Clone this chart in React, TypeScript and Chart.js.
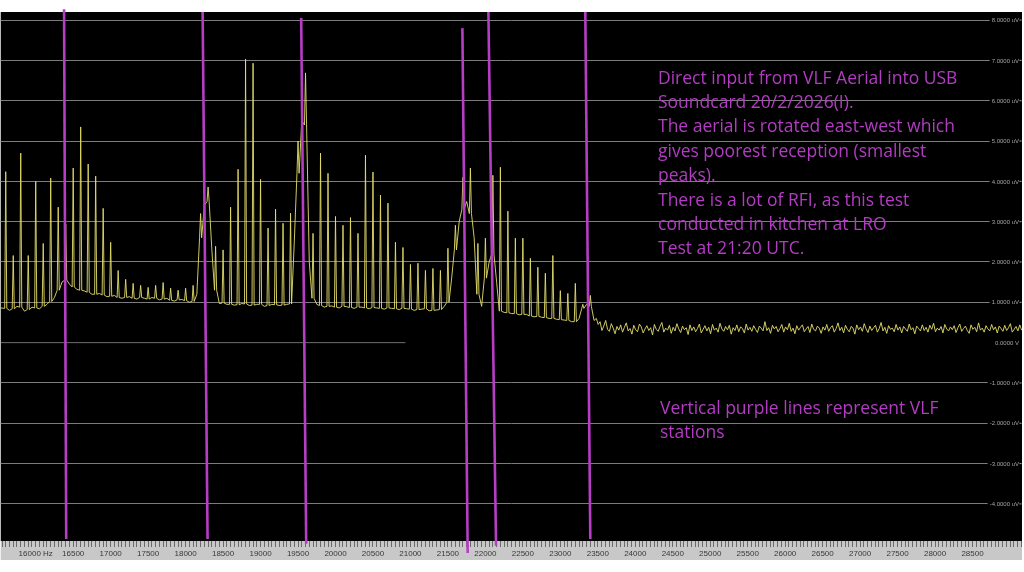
import React, { useEffect, useRef } from 'react';
import { Chart, registerables } from 'chart.js';

Chart.register(...registerables);

// ---- axis ranges ----
const X_MIN_HZ = 15533;
const X_MAX_HZ = 29160;
const Y_MIN_UV = -4.92;
const Y_MAX_UV = 8.2;

// ---- mains-harmonic spikes, one every 100 Hz from 15600 Hz ----
const PEAK_START_HZ = 15600;
const PEAK_STEP_HZ = 100;
const SPIKE_HALF_HZ = 14;
const GAP_OFFSET_HZ = 50;

const peakTopUv = [
  4.24, 2.16, 4.7, 2.16, 4.0, 2.46, 4.08, 3.36, 2.94, 4.33,
  5.35, 4.43, 4.13, 3.33, 2.49, 1.79, 1.57, 1.47, 1.42, 1.37,
  1.42, 1.49, 1.35, 1.3, 1.35, 1.42, 3.2, 3.86, 2.39, 2.3,
  3.36, 4.3, 7.03, 6.93, 4.05, 2.84, 3.31, 2.96, 3.21, 5.0,
  6.69, 2.71, 4.7, 4.2, 3.13, 2.91, 3.1, 2.71, 4.65, 4.23,
  3.66, 3.46, 2.49, 2.36, 1.94, 1.97, 1.79, 1.84, 1.79, 2.34,
  2.91, 4.1, 4.33, 2.46, 2.59, 4.15, 4.35, 3.26, 2.59, 2.59,
  2.09, 1.87, 1.72, 2.16, 1.29, 1.22, 1.47, 0.95, 1.17,
];

const peakFloorUv = [
  0.85, 0.84, 0.88, 0.82, 0.86, 0.9, 1.02, 1.3, 1.55, 1.38,
  1.3, 1.25, 1.2, 1.18, 1.15, 1.12, 1.12, 1.1, 1.12, 1.08,
  1.1, 1.08, 1.05, 1.06, 1.04, 1.02, 2.6, 3.5, 1.3, 0.98,
  0.95, 0.94, 0.96, 0.93, 0.95, 0.92, 0.94, 0.93, 0.96, 4.2,
  5.4, 1.1, 0.92, 0.9, 0.88, 0.9, 0.87, 0.88, 0.86, 0.87,
  0.85, 0.86, 0.84, 0.85, 0.83, 0.82, 0.84, 0.8, 0.82, 1.0,
  2.3, 3.3, 3.2, 1.2, 1.6, 2.2, 0.78, 0.74, 0.72, 0.7,
  0.66, 0.65, 0.62, 0.6, 0.57, 0.55, 0.52, 0.85, 0.9,
];

// value half-way between consecutive spikes
const gapUv = [
  0.8, 0.9, 0.78, 0.88, 0.84, 0.95, 1.12, 1.5, 1.45, 1.32,
  1.28, 1.2, 1.22, 1.14, 1.17, 1.1, 1.14, 1.08, 1.1, 1.12,
  1.06, 1.1, 1.03, 1.07, 1.0, 1.2, 3.4, 2.3, 0.97, 0.95,
  0.93, 0.97, 0.92, 0.95, 0.9, 0.95, 0.92, 0.95, 2.5, 5.5,
  2.0, 0.95, 0.88, 0.91, 0.86, 0.89, 0.85, 0.88, 0.84, 0.86,
  0.83, 0.85, 0.82, 0.84, 0.8, 0.83, 0.79, 0.81, 0.9, 1.6,
  3.0, 3.5, 2.6, 0.9, 2.0, 1.5, 0.75, 0.72, 0.69, 0.7,
  0.64, 0.63, 0.6, 0.58, 0.56, 0.52, 0.6, 0.95, 0.55,
];

const LEAD_HZ = 15535;
const LEAD_UV = 0.86;

// ---- noise floor above the last station ----
const NOISE_START_HZ = 23480;
const NOISE_STEP_HZ = 25;
const noiseUv = [
  0.6, 0.45, 0.52, 0.3, 0.41, 0.55, 0.33, 0.28, 0.47, 0.36,
  0.22, 0.4, 0.31, 0.44, 0.26, 0.38, 0.49, 0.29, 0.35, 0.21,
  0.43, 0.32, 0.27, 0.46, 0.39, 0.24, 0.34, 0.42, 0.3, 0.37,
  0.19, 0.45, 0.33, 0.28, 0.4, 0.5, 0.26, 0.36, 0.31, 0.43,
  0.23, 0.38, 0.29, 0.47, 0.34, 0.25, 0.41, 0.32, 0.37, 0.2,
  0.44, 0.3, 0.39, 0.27, 0.35, 0.46, 0.24, 0.33, 0.42, 0.29,
  0.38, 0.22, 0.45, 0.31, 0.36, 0.26, 0.48, 0.34, 0.28, 0.4,
  0.32, 0.43, 0.21, 0.37, 0.3, 0.44, 0.27, 0.39, 0.35, 0.24,
  0.46, 0.31, 0.38, 0.28, 0.42, 0.33, 0.25, 0.41, 0.36, 0.29,
  0.52, 0.3, 0.37, 0.23, 0.43, 0.34, 0.4, 0.27, 0.35, 0.45,
  0.26, 0.39, 0.32, 0.48, 0.28, 0.36, 0.22, 0.42, 0.31, 0.38,
  0.44, 0.27, 0.34, 0.4, 0.25, 0.46, 0.33, 0.29, 0.41, 0.36,
  0.23, 0.39, 0.31, 0.45, 0.28, 0.37, 0.42, 0.26, 0.35, 0.49,
  0.3, 0.38, 0.24, 0.43, 0.33, 0.27, 0.4, 0.36, 0.21, 0.44,
  0.32, 0.39, 0.28, 0.47, 0.34, 0.25, 0.41, 0.3, 0.37, 0.43,
  0.26, 0.35, 0.5, 0.29, 0.38, 0.23, 0.42, 0.33, 0.36, 0.27,
  0.45, 0.31, 0.39, 0.24, 0.4, 0.34, 0.28, 0.46, 0.32, 0.37,
  0.22, 0.41, 0.35, 0.29, 0.44, 0.3, 0.38, 0.26, 0.43, 0.33,
  0.48, 0.27, 0.36, 0.31, 0.4, 0.24, 0.45, 0.34, 0.29, 0.39,
  0.32, 0.42, 0.25, 0.37, 0.46, 0.28, 0.35, 0.41, 0.3, 0.23,
  0.44, 0.33, 0.38, 0.27, 0.49, 0.31, 0.36, 0.26, 0.42, 0.34,
  0.29, 0.45, 0.32, 0.39, 0.24, 0.41, 0.35, 0.28, 0.43, 0.3,
  0.37, 0.47, 0.26, 0.33, 0.4, 0.29, 0.44, 0.31, 0.36, 0.25,
];

// ---- VLF stations (hand-drawn, slightly slanted purple lines) ----
const stationTopHz = [16378, 18227, 19542, 21693, 22040, 23333];
const stationTopUv = [8.27, 8.2, 8.05, 7.8, 8.2, 8.2];
const stationBottomHz = [16407, 18293, 19609, 21764, 22142, 23400];
const stationBottomUv = [-4.87, -4.87, -4.99, -5.22, -5.04, -4.87];

// ---- partial zero line ----
const zeroLineHz = [15533, 20933];
const zeroLineUv = [0, 0];

// ---- axis ticks ----
const Y_STEP_UV = 1;
const X_MINOR_STEP_HZ = 50;
const X_LABEL_STEP_HZ = 500;
const X_FIRST_LABEL_HZ = 16000;
const X_LAST_LABEL_HZ = 28500;

const noteLines = [
  'Direct input from VLF Aerial into USB',
  'Soundcard 20/2/2026(I).',
  'The aerial is rotated east-west which',
  'gives poorest reception (smallest',
  'peaks).',
  'There is a lot of RFI, as this test',
  'conducted in kitchen at LRO',
  'Test at 21:20 UTC.',
];
const legendLines = ['Vertical purple lines represent VLF', 'stations'];

const PURPLE = '#b63dc4';
const TEXT_PURPLE = '#b23cc2';

function yLabel(n: number) {
  return n === 0 ? '0.0000 V' : n.toFixed(4) + ' uV';
}

function buildSpectrum() {
  const pts: { x: number; y: number }[] = [{ x: LEAD_HZ, y: LEAD_UV }];
  peakTopUv.forEach((top, i) => {
    const f = PEAK_START_HZ + i * PEAK_STEP_HZ;
    pts.push({ x: f - SPIKE_HALF_HZ, y: peakFloorUv[i] });
    pts.push({ x: f, y: top });
    pts.push({ x: f + SPIKE_HALF_HZ, y: peakFloorUv[i] });
    pts.push({ x: f + GAP_OFFSET_HZ, y: gapUv[i] });
  });
  noiseUv.forEach((v, i) => pts.push({ x: NOISE_START_HZ + i * NOISE_STEP_HZ, y: v }));
  return pts;
}

const backgroundPlugin = {
  id: 'bg',
  beforeDraw(chart: any) {
    const { ctx, chartArea } = chart;
    const xs = chart.scales.x;
    ctx.save();
    ctx.fillStyle = '#000000';
    ctx.fillRect(chartArea.left, chartArea.top, chartArea.right - chartArea.left, chartArea.bottom - chartArea.top);
    ctx.fillStyle = '#c8c8c8';
    ctx.fillRect(xs.left, xs.top, xs.right - xs.left, xs.bottom - xs.top);
    ctx.restore();
  },
  beforeDatasetsDraw(chart: any) {
    const { ctx, chartArea } = chart;
    const ys = chart.scales.y;
    ctx.save();
    ctx.font = '6px "Liberation Sans"';
    ctx.textAlign = 'right';
    ctx.textBaseline = 'middle';
    const xr = chartArea.right - 3;
    ys.ticks.forEach((t: any) => {
      const y = ys.getPixelForValue(t.value);
      const s = yLabel(t.value);
      const w = ctx.measureText(s).width;
      ctx.fillStyle = '#000000';
      ctx.fillRect(xr - w - 2, y - 4, w + 5, 8);
      ctx.fillStyle = '#a4a4a4';
      ctx.fillText(s, xr, y + 0.5);
      if (t.value !== 0) {
        ctx.fillRect(xr + 0.5, y - 0.5, 2, 1);
      }
    });
    ctx.restore();
  },
};

export default function App() {
  const ref = useRef<HTMLCanvasElement | null>(null);

  useEffect(() => {
    if (!ref.current) return;
    const stationSets = stationTopHz.map((_, i) => ({
      label: 'station' + i,
      data: [
        { x: stationTopHz[i], y: stationTopUv[i] },
        { x: stationBottomHz[i], y: stationBottomUv[i] },
      ],
      borderColor: PURPLE,
      borderWidth: 2.6,
      pointRadius: 0,
      clip: false as any,
    }));
    const chart = new Chart(ref.current, {
      type: 'line',
      data: {
        datasets: [
          ...stationSets,
          {
            label: 'spectrum',
            data: buildSpectrum(),
            borderColor: 'rgba(228, 222, 108, 0.9)',
            borderWidth: 1,
            pointRadius: 0,
            tension: 0,
          },
          {
            label: 'zero',
            data: zeroLineHz.map((x, i) => ({ x, y: zeroLineUv[i] })),
            borderColor: '#6e6e6e',
            borderWidth: 1,
            pointRadius: 0,
          },
        ] as any,
      },
      options: {
        animation: false,
        responsive: false,
        maintainAspectRatio: false,
        devicePixelRatio: 1,
        parsing: false as any,
        normalized: true,
        layout: { padding: { top: 12, bottom: 12, left: 0, right: 0 } },
        plugins: { legend: { display: false }, tooltip: { enabled: false } },
        scales: {
          x: {
            type: 'linear',
            position: 'bottom',
            min: X_MIN_HZ,
            max: X_MAX_HZ,
            afterFit: (s: any) => { s.height = 19; },
            border: { display: false },
            grid: {
              drawOnChartArea: false,
              drawTicks: true,
              tickLength: 6,
              tickColor: '#6a6a6a',
              tickWidth: 1,
            },
            ticks: {
              stepSize: X_MINOR_STEP_HZ,
              includeBounds: false,
              autoSkip: false,
              maxRotation: 0,
              minRotation: 0,
              padding: 2,
              color: '#383838',
              font: { family: 'Liberation Sans', size: 8 },
              callback: (v: any) => {
                const n = Number(v);
                if (n % X_LABEL_STEP_HZ !== 0 || n < X_FIRST_LABEL_HZ || n > X_LAST_LABEL_HZ) return '';
                return n === X_FIRST_LABEL_HZ ? n + ' Hz' : String(n);
              },
            },
          },
          y: {
            type: 'linear',
            position: 'right',
            min: Y_MIN_UV,
            max: Y_MAX_UV,
            afterFit: (s: any) => { s.width = 2; },
            border: { display: false },
            grid: {
              drawTicks: false,
              lineWidth: 1,
              color: (c: any) => (c.tick && c.tick.value === 0 ? 'rgba(0,0,0,0)' : '#7c7c7c'),
            },
            ticks: {
              stepSize: Y_STEP_UV,
              includeBounds: false,
              display: false,
            },
          },
        },
      } as any,
      plugins: [backgroundPlugin],
    });
    return () => chart.destroy();
  }, []);

  const textStyle: React.CSSProperties = {
    position: 'absolute',
    left: 658,
    fontFamily: '"Open Sans", "Noto Sans", sans-serif',
    fontSize: 17.5,
    lineHeight: '24.4px',
    color: TEXT_PURPLE,
    whiteSpace: 'pre',
    pointerEvents: 'none',
  };

  return (
    <div style={{ position: 'fixed', left: 0, top: 0, width: 1024, height: 572, background: '#ffffff', overflow: 'hidden' }}>
      <canvas ref={ref} width={1024} height={572} style={{ display: 'block', width: 1024, height: 572 }} />
      <div style={{ ...textStyle, top: 64.5 }}>
        {noteLines.map((l, i) => (<div key={i}>{l}</div>))}
      </div>
      <div style={{ ...textStyle, top: 395, left: 660 }}>
        {legendLines.map((l, i) => (<div key={i}>{l}</div>))}
      </div>
    </div>
  );
}
